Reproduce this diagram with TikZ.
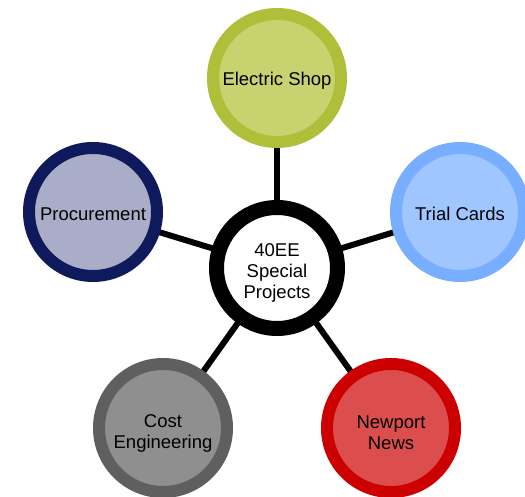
\documentclass[tikz,border=0pt]{standalone}
\usepackage{fontspec}
\setmainfont{Liberation Sans}
\usetikzlibrary{backgrounds}
\definecolor{esring}{HTML}{AFBF3A}
\definecolor{esfill}{HTML}{C8D370}
\definecolor{tcring}{HTML}{78AEFF}
\definecolor{tcfill}{HTML}{A0C6FF}
\definecolor{prring}{HTML}{0F1A5C}
\definecolor{prfill}{HTML}{A9ADC8}
\definecolor{ceing}{HTML}{5F5F5F}
\definecolor{cefill}{HTML}{8F8F8F}
\definecolor{nnring}{HTML}{CC0000}
\definecolor{nnfill}{HTML}{DC4E4E}
\tikzset{
  satellite/.style={circle, inner sep=0pt, minimum size=128pt, line width=12pt},
  hub/.style={circle, inner sep=0pt, minimum size=121pt, line width=15pt, draw=black, fill=white},
  caption/.style={align=center, font=\fontsize{18.5}{21}\selectfont, text=black, inner sep=0pt},
  link/.style={line width=6pt, draw=black}
}
\begin{document}
\begin{tikzpicture}[x=1pt,y=1pt]
\useasboundingbox (0,0) rectangle (525,497);
\node[hub, label={[caption, yshift=-5pt]center:40EE\\Special\\Projects}] (c) at (277,229) {};
\node[satellite, draw=esring, fill=esfill, label={[caption, yshift=-2.5pt]center:Electric Shop}] (es) at (277,419) {};
\node[satellite, draw=tcring, fill=tcfill, label={[caption, yshift=-2pt]center:Trial Cards}] (tc) at (460,285) {};
\node[satellite, draw=prring, fill=prfill, label={[caption, yshift=-2pt]center:Procurement}] (pr) at (93,285) {};
\node[satellite, draw=ceing, fill=cefill, label={[caption, yshift=-5pt]center:Cost\\Engineering}] (ce) at (163,69) {};
\node[satellite, draw=nnring, fill=nnfill, label={[caption, yshift=-5pt]center:Newport\\News}] (nn) at (391,69) {};
\begin{scope}[on background layer]
\draw[link] (c.center) -- (es.center);
\draw[link] (c.center) -- (tc.center);
\draw[link] (c.center) -- (pr.center);
\draw[link] (c.center) -- (ce.center);
\draw[link] (c.center) -- (nn.center);
\end{scope}
\end{tikzpicture}
\end{document}
